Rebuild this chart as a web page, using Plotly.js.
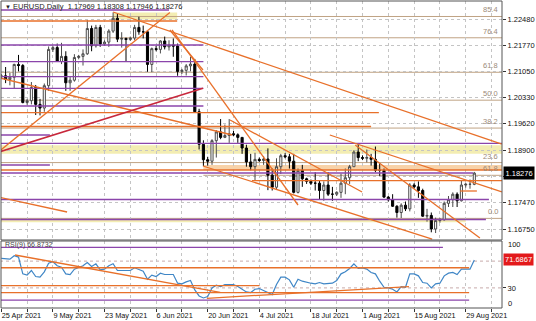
<!DOCTYPE html>
<html><head><meta charset="utf-8">
<script src="https://cdn.plot.ly/plotly-3.0.1.min.js"></script>
<style>html,body{margin:0;padding:0;background:#fff}#chart{width:536px;height:321px}</style>
</head><body><div id="chart"></div>
<script>
// ---- data (bar index 0 = Sun 25 Apr 2021, broker shows Sunday bars) ----
const openP  = [1.2090,1.2093,1.2083,1.2089,1.2124,1.2121,1.2020,1.2025,1.2061,1.2015,1.2005,1.2066,1.2165,1.2170,1.2132,1.2146,1.2074,1.2081,1.2143,1.2146,1.2153,1.2222,1.2175,1.2225,1.2180,1.2185,1.2215,1.2250,1.2193,1.2195,1.2192,1.2196,1.2225,1.2213,1.2213,1.2124,1.2167,1.2165,1.2188,1.2172,1.2177,1.2174,1.2105,1.2108,1.2120,1.2125,1.1995,1.1906,1.1864,1.1860,1.1916,1.1940,1.1925,1.1930,1.1935,1.1932,1.1925,1.1896,1.1858,1.1845,1.1865,1.1862,1.1866,1.1822,1.1789,1.1845,1.1875,1.1872,1.1860,1.1775,1.1835,1.1812,1.1805,1.1800,1.1800,1.1780,1.1795,1.1770,1.1770,1.1775,1.1800,1.1815,1.1845,1.1885,1.1870,1.1868,1.1870,1.1865,1.1835,1.1835,1.1762,1.1755,1.1737,1.1720,1.1740,1.1730,1.1795,1.1790,1.1780,1.1710,1.1712,1.1675,1.1698,1.1700,1.1745,1.1755,1.1770,1.1752,1.1795,1.1797,1.17969];
const highP  = [1.2098,1.2117,1.2101,1.2126,1.2150,1.2125,1.2030,1.2076,1.2068,1.2030,1.2072,1.2173,1.2175,1.2181,1.2183,1.2160,1.2092,1.2152,1.2150,1.2165,1.2245,1.2230,1.2232,1.2232,1.2190,1.2220,1.2266,1.2262,1.2212,1.2197,1.2200,1.2232,1.2254,1.2230,1.2215,1.2170,1.2175,1.2190,1.2200,1.2190,1.2195,1.2181,1.2112,1.2125,1.2145,1.2139,1.2003,1.1917,1.1872,1.1920,1.1945,1.1975,1.1960,1.1975,1.1943,1.1936,1.1925,1.1905,1.1880,1.1883,1.1870,1.1874,1.1895,1.1840,1.1868,1.1880,1.1882,1.1880,1.1880,1.1840,1.1850,1.1815,1.1810,1.1830,1.1806,1.1805,1.1830,1.1790,1.1778,1.1826,1.1840,1.1850,1.1890,1.1909,1.1876,1.1892,1.1880,1.1900,1.1855,1.1840,1.1765,1.1770,1.1740,1.1745,1.1750,1.1800,1.1800,1.1805,1.1785,1.1730,1.1720,1.1706,1.1705,1.1750,1.1765,1.1775,1.1775,1.1808,1.1800,1.1810,1.18308];
const lowP   = [1.2085,1.2073,1.2067,1.2058,1.2105,1.2018,1.2014,1.2015,1.1986,1.1985,1.1995,1.2052,1.2158,1.2135,1.2125,1.2052,1.2052,1.2077,1.2138,1.2121,1.2150,1.2160,1.2170,1.2172,1.2175,1.2172,1.2210,1.2185,1.2170,1.2133,1.2188,1.2190,1.2205,1.2195,1.2104,1.2103,1.2160,1.2154,1.2165,1.2162,1.2145,1.2093,1.2098,1.2094,1.2105,1.1995,1.1892,1.1847,1.1848,1.1850,1.1870,1.1920,1.1923,1.1910,1.1928,1.1910,1.1880,1.1845,1.1835,1.1807,1.1858,1.1850,1.1781,1.1780,1.1782,1.1825,1.1868,1.1840,1.1772,1.1772,1.1790,1.1798,1.1795,1.1780,1.1755,1.1752,1.1765,1.1752,1.1765,1.1760,1.1770,1.1798,1.1845,1.1860,1.1863,1.1857,1.1848,1.1830,1.1820,1.1760,1.1750,1.1735,1.1706,1.1705,1.1724,1.1723,1.1786,1.1760,1.1708,1.1695,1.1666,1.1664,1.1692,1.1698,1.1735,1.1735,1.1735,1.1750,1.1788,1.1785,1.17946];
const closeP = [1.2093,1.2083,1.2089,1.2124,1.2121,1.2020,1.2025,1.2061,1.2015,1.2005,1.2066,1.2165,1.2170,1.2132,1.2146,1.2074,1.2081,1.2143,1.2146,1.2153,1.2222,1.2175,1.2225,1.2180,1.2185,1.2215,1.2250,1.2193,1.2195,1.2192,1.2196,1.2225,1.2213,1.2213,1.2124,1.2167,1.2165,1.2188,1.2172,1.2177,1.2174,1.2105,1.2108,1.2120,1.2125,1.1995,1.1906,1.1864,1.1860,1.1916,1.1940,1.1925,1.1930,1.1935,1.1932,1.1925,1.1896,1.1858,1.1845,1.1865,1.1862,1.1866,1.1822,1.1789,1.1845,1.1875,1.1872,1.1860,1.1775,1.1835,1.1812,1.1805,1.1800,1.1800,1.1780,1.1795,1.1770,1.1770,1.1775,1.1800,1.1815,1.1845,1.1885,1.1870,1.1868,1.1870,1.1865,1.1835,1.1835,1.1762,1.1755,1.1737,1.1720,1.1740,1.1730,1.1795,1.1790,1.1780,1.1710,1.1712,1.1675,1.1698,1.1700,1.1745,1.1755,1.1770,1.1752,1.1795,1.1797,1.1797,1.18276];
const rsiValues = [74,73,73,78,76,51,49,56,47,46,54,67,69,63,61,51,50,58,61,63,68,62,66,57,58,63,66,56,56,56,56,60,58,55,43,49,47,52,50,50,50,37,36,39,41,27,18,15,17,30,34,32,35,35,35,32,28,24,23,28,29,26,22,20,35,46,46,42,31,43,40,38,37,36,38,36,37,37,41,51,54,59,66,59,60,58,53,51,40,31,30,28,24,32,31,51,51,48,38,37,30,36,37,48,52,53,50,58,58,58,71.6867];

const tickIdx   = [0,6,12,18,24,30,36,42,48,54,60,66,72,78,84,90,96,102,108,114];
const tickLabel = ["25 Apr 2021","","9 May 2021","","23 May 2021","","6 Jun 2021","","20 Jun 2021","","4 Jul 2021","","18 Jul 2021","","1 Aug 2021","","15 Aug 2021","","29 Aug 2021",""];
const priceTicks = [1.2248,1.2177,1.2105,1.2033,1.1962,1.1890,1.1818,1.1747,1.1675];

const fibLow = 1.1704, fibHigh = 1.2349;
const fibRatios = [0,23.6,38.2,50,61.8,76.4,85.4];
const fib2Level = [61.8, 1.18215];

// drawn objects: [price, fromBar, toBar] and [bar0, price0, bar1, price1]
const purpleLevels = [[1.22726,-0.3,39],[1.21771,-0.3,47],[1.21315,-0.3,47],[1.20906,-0.3,47],[1.20589,-0.3,47],[1.20106,-0.3,47],[1.19315,-0.3,11.3],[1.19088,-0.3,116.5],[1.18496,-0.3,11.3],[1.18278,-0.3,109.7],[1.17555,-0.3,113.4],[1.17009,-0.3,112.7]];
const orangeLevels = [[1.22425,-0.3,40.9],[1.19923,-0.3,87.8],[1.19547,-0.3,86],[1.1836,-0.3,116.5],[1.18068,58.3,116.5],[1.17787,106.7,110.6]];
const yellowZones  = [[26,40.9,1.22466,1.22657],[-0.3,116.5,1.18801,1.19033],[-0.3,108,1.16935,1.17025]];
const orangeZones  = [[47,116.5,1.1836,1.18496]];
const orangeTrends = [[26,1.22671,116.4,1.19069],[-0.3,1.18889,39.2,1.22657],[-0.3,1.20870,53.7,1.19315],[39.7,1.2218,69,1.17405],[39.2,1.2218,46.9,1.21088],[53.2,1.19724,83.9,1.1776],[46.9,1.18469,100.2,1.16477],[76.4,1.19315,116.4,1.1776],[82.3,1.19042,111.3,1.16504],[-0.3,1.17610,15.3,1.17214]];
const crimsonTrends = [[-0.3,1.18859,46.9,1.20589]];
const rsiPurpleLevels = [[90.6,-0.3,102.7],[11.9,-0.3,108.8]];
const rsiOrangeLevels = [[60.1,-0.3,108.8],[33.3,-0.3,60],[22.8,-0.3,108.8]];
const rsiTrends = [[3.2,79.1,50.9,23.4],[47.8,14.5,94.8,31.8]];
const rsiDotLevels = [70,30];

// ---- styles ----
const ORANGE='#e8702a', PURPLE='#8b45ab', CRIMSON='#c8283c', TAN='#c0a384', YELLOW='#f3edb2', GRID='#c4c4c4';
const FONT='Liberation Sans, Arial, sans-serif';
const bars = openP.map((_,i)=>i);
const shapes = [];
const hline=(yref,p,a,b,color,w,dash,layer)=>shapes.push({type:'line',xref:'x',yref:yref,x0:a,x1:b,y0:p,y1:p,line:{color:color,width:w,dash:dash||'solid'},layer:layer||'above'});
yellowZones.forEach(z=>shapes.push({type:'rect',xref:'x',yref:'y',x0:z[0],x1:z[1],y0:z[2],y1:z[3],fillcolor:YELLOW,line:{width:0},layer:'below'}));
orangeZones.forEach(z=>shapes.push({type:'rect',xref:'x',yref:'y',x0:z[0],x1:z[1],y0:z[2],y1:z[3],fillcolor:'rgba(244,180,110,0.6)',line:{width:0},layer:'below'}));
fibRatios.forEach(r=>hline('y',fibLow+(fibHigh-fibLow)*r/100,-0.3,116.5,TAN,1,'solid','below'));
hline('y',fib2Level[1],47,116.5,TAN,1,'solid','below');
purpleLevels.forEach(l=>hline('y',l[0],l[1],l[2],PURPLE,1.3));
orangeLevels.forEach(l=>hline('y',l[0],l[1],l[2],ORANGE,1.3));
const tline=(yref,t,color,w)=>shapes.push({type:'line',xref:'x',yref:yref,x0:t[0],y0:t[1],x1:t[2],y1:t[3],line:{color:color,width:w}});
orangeTrends.forEach(t=>tline('y',t,ORANGE,1.3));
crimsonTrends.forEach(t=>tline('y',t,CRIMSON,1.5));
rsiDotLevels.forEach(v=>hline('y2',v,-0.3,116.5,'#c8aaaa',1,'dot','below'));
rsiPurpleLevels.forEach(l=>hline('y2',l[0],l[1],l[2],PURPLE,1.3));
rsiOrangeLevels.forEach(l=>hline('y2',l[0],l[1],l[2],ORANGE,1.3));
rsiTrends.forEach(t=>tline('y2',t,ORANGE,1.3));
// pane frames
shapes.push({type:'rect',xref:'x domain',yref:'y domain',x0:0,x1:1,y0:0,y1:1,line:{color:'#555',width:1},layer:'above'});
shapes.push({type:'rect',xref:'x domain',yref:'y2 domain',x0:0,x1:1,y0:0,y1:1,line:{color:'#555',width:1},layer:'above'});

const annotations = [];
fibRatios.forEach(r=>annotations.push({xref:'paper',yref:'y',x:0.996,y:fibLow+(fibHigh-fibLow)*r/100,xanchor:'right',yanchor:'bottom',text:r.toFixed(1),showarrow:false,font:{family:FONT,size:7.5,color:'#9c8a78'}}));
annotations.push({xref:'paper',yref:'y',x:0.996,y:fib2Level[1],xanchor:'right',yanchor:'bottom',text:fib2Level[0].toFixed(1),showarrow:false,font:{family:FONT,size:7.5,color:'#9c8a78'}});
annotations.push({xref:'paper',yref:'paper',x:0.004,y:0.982,xanchor:'left',yanchor:'middle',showarrow:false,
  text:'<span style="font-size:6px">▼</span> EURUSD,Daily  '+[openP[110],highP[110],lowP[110],closeP[110]].map(v=>v.toFixed(5)).join(' '),font:{family:FONT,size:7.5,color:'#222'}});
annotations.push({xref:'paper',yref:'y2',x:0.004,y:94,xanchor:'left',yanchor:'middle',showarrow:false,text:'RSI(9) 66.8732',font:{family:FONT,size:7,color:'#444'}});
annotations.push({xref:'paper',yref:'y',x:1,y:closeP[110],xanchor:'left',yanchor:'middle',xshift:1,showarrow:false,text:closeP[110].toFixed(5),bgcolor:'#000',borderpad:1.5,font:{family:FONT,size:7.5,color:'#fff'}});
annotations.push({xref:'paper',yref:'y2',x:1,y:rsiValues[110],xanchor:'left',yanchor:'middle',xshift:1,showarrow:false,text:rsiValues[110].toFixed(4),bgcolor:'#e3191b',borderpad:1,font:{family:FONT,size:7.5,color:'#fff'}});
annotations.push({xref:'paper',yref:'y2',x:1,y:94.5,xanchor:'left',yanchor:'middle',xshift:4,showarrow:false,text:'100',font:{family:FONT,size:7.5,color:'#111'}});
annotations.push({xref:'paper',yref:'y2',x:1,y:7,xanchor:'left',yanchor:'middle',xshift:4,showarrow:false,text:'0',font:{family:FONT,size:7.5,color:'#111'}});

const traces = [
  {type:'candlestick',x:bars,open:openP,high:highP,low:lowP,close:closeP,xaxis:'x',yaxis:'y',
   increasing:{line:{color:'#4a4a4a',width:1},fillcolor:'#ffffff'},
   decreasing:{line:{color:'#000000',width:1},fillcolor:'#000000'},whiskerwidth:0,hoverinfo:'skip',showlegend:false},
  {type:'scatter',mode:'lines',x:bars,y:rsiValues,xaxis:'x',yaxis:'y2',line:{color:'#3f86c6',width:1.2},hoverinfo:'skip',showlegend:false}
];

// the tick under the current-price box is hidden by it, as in the reference
const priceTickText = priceTicks.map(v=>Math.abs(v-closeP[110])<0.0015?'':v.toFixed(5));

const layout = {
  width:536,height:321,margin:{l:1,r:34,t:1,b:13},paper_bgcolor:'#fff',plot_bgcolor:'#fff',
  showlegend:false,hovermode:false,font:{family:FONT,size:7.5,color:'#111'},
  xaxis:{range:[-0.07,116.44],anchor:'y2',tickmode:'array',tickvals:tickIdx,ticktext:tickLabel,ticklabelposition:'outside right',
    ticks:'outside',ticklen:3,tickcolor:'#333',showgrid:true,gridcolor:GRID,griddash:'dot',gridwidth:1,zeroline:false,showline:false,
    rangeslider:{visible:false},tickfont:{family:FONT,size:7.3,color:'#111'}},
  yaxis:{domain:[0.2215,1],range:[1.16450,1.22971],side:'right',tickmode:'array',tickvals:priceTicks,ticktext:priceTickText,
    ticks:'outside',ticklen:3,tickcolor:'#333',showgrid:true,gridcolor:GRID,griddash:'dot',zeroline:false,showline:false,tickfont:{family:FONT,size:7.5,color:'#111'}},
  yaxis2:{domain:[0,0.2182],range:[0,100],side:'right',tickmode:'array',tickvals:[30],ticktext:['30'],ticks:'outside',ticklen:3,tickcolor:'#333',
    showgrid:false,zeroline:false,showline:false,tickfont:{family:FONT,size:7.5,color:'#111'}},
  shapes:shapes,annotations:annotations
};
Plotly.newPlot('chart',traces,layout,{staticPlot:true,displayModeBar:false});
</script></body></html>
